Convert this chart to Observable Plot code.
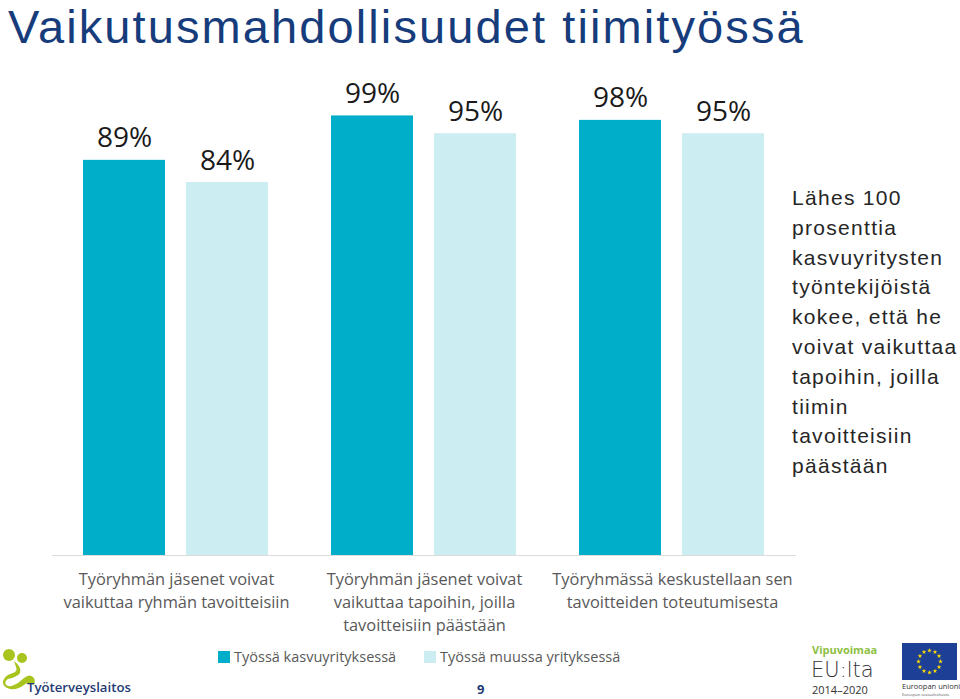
<!DOCTYPE html>
<html>
<head>
<meta charset="utf-8">
<script src="https://cdn.jsdelivr.net/npm/d3@7"></script>
<script src="https://cdn.jsdelivr.net/npm/@observablehq/plot@0.6"></script>
<style>
  html, body { margin: 0; padding: 0; background: #fff; }
  body { width: 960px; height: 699px; position: relative; overflow: hidden; }
  #title { position: absolute; left: 8px; top: 0px; font-family: "Liberation Sans", Arial, sans-serif; font-size: 47px; line-height: 53px; letter-spacing: 2.1px; color: #163c7c; white-space: nowrap; }
  #chart { position: absolute; left: 0; top: 0; }
  #note { position: absolute; left: 792px; top: 183px; font-family: "Liberation Sans", Arial, sans-serif; font-size: 21px; line-height: 29.8px; letter-spacing: 1.3px; color: #262626; white-space: nowrap; }
  #legend { position: absolute; left: 218px; top: 647px; font-family: "Open Sans", sans-serif; font-size: 14.5px; color: #595959; white-space: nowrap; }
  #legend span.item { position: absolute; top: 0; white-space: nowrap; }
  #legend i { display: inline-block; width: 12px; height: 12px; margin-right: 4px; vertical-align: -1px; }
  #page { position: absolute; left: 477px; top: 680px; font-family: "Open Sans", sans-serif; font-weight: bold; font-size: 13px; color: #1f3c73; }
  .logo { position: absolute; overflow: visible; }
</style>
</head>
<body>
<div id="title">Vaikutusmahdollisuudet tiimityössä</div>
<div id="chart"></div>
<div id="note"></div>
<div id="legend"></div>
<div id="page">9</div>

<svg class="logo" style="left:0;top:645px" width="140" height="54">
  <g fill="#a8c41e">
    <circle cx="9" cy="10" r="6"/>
    <circle cx="22" cy="13" r="5"/>
    <path d="M14 16 Q22 22 20 28 Q17 32 8 34 Q4 36 6 40 Q10 43 18 38 L24 33 Q30 28 34 33 Q36 37 33 40 Q28 36 24 40 Q18 45 10 44 Q2 42 3 36 Q5 30 13 28 Q18 26 16 22 Z"/>
  </g>
  <text x="27" y="47" font-family="Open Sans, sans-serif" font-weight="600" font-size="13.2" fill="#1f3c73">Työterveyslaitos</text>
</svg>

<svg class="logo" style="left:805px;top:640px" width="155" height="59">
  <text x="7" y="14" font-family="Open Sans, sans-serif" font-weight="bold" font-size="11" fill="#8dbf43">Vipuvoimaa</text>
  <text x="6" y="37" font-family="DejaVu Sans, sans-serif" font-weight="200" font-size="21" fill="#333">EU:lta</text>
  <text x="7" y="54" font-family="Open Sans, sans-serif" font-size="11" fill="#333">2014–2020</text>
  <rect x="97" y="3" width="55" height="37" fill="#1d3f95"/>
  <g id="stars" fill="#ffdd00"></g>
  <text x="97" y="49" font-family="Open Sans, sans-serif" font-size="7.5" fill="#333">Euroopan unioni</text>
  <text x="97" y="56" font-family="Open Sans, sans-serif" font-size="4" fill="#555">Euroopan sosiaalirahasto</text>
</svg>

<script>
// ---- data ----
const categories = [
  "Työryhmän jäsenet voivat\nvaikuttaa ryhmän tavoitteisiin",
  "Työryhmän jäsenet voivat\nvaikuttaa tapoihin, joilla\ntavoitteisiin päästään",
  "Työryhmässä keskustellaan sen\ntavoitteiden toteutumisesta"
];
const seriesNames = ["Työssä kasvuyrityksessä", "Työssä muussa yrityksessä"];
const growthValues = [89, 99, 98];
const otherValues = [84, 95, 95];
const seriesColors = ["#00aec9", "#ccedf2"];
const noteLines = ["Lähes 100", "prosenttia", "kasvuyritysten", "työntekijöistä", "kokee, että he", "voivat vaikuttaa", "tapoihin, joilla", "tiimin", "tavoitteisiin", "päästään"];

const data = [];
categories.forEach((c, i) => {
  data.push({category: c, series: seriesNames[0], value: growthValues[i]});
  data.push({category: c, series: seriesNames[1], value: otherValues[i]});
});

const chart = Plot.plot({
  width: 960,
  height: 699,
  marginLeft: 51,
  marginRight: 164,
  marginTop: 111,
  marginBottom: 144,
  style: {background: "transparent"},
  fx: {domain: categories, padding: 0, axis: null},
  x: {domain: seriesNames, paddingInner: 0.202, paddingOuter: 0.2957, axis: null},
  y: {domain: [0, 100], axis: null},
  color: {domain: seriesNames, range: seriesColors},
  marks: [
    Plot.barY(data, {fx: "category", x: "series", y: "value", fill: "series"}),
    Plot.ruleY([0], {stroke: "#dcdcdc", strokeWidth: 1.2}),
    Plot.text(data, {
      fx: "category", x: "series", y: "value",
      text: d => d.value + "%",
      dy: -22, lineAnchor: "middle",
      fontSize: 28, fontFamily: "Open Sans, sans-serif", fill: "#1a1a1a"
    }),
    Plot.text(categories, {
      fx: d => d, text: d => d,
      frameAnchor: "bottom", lineAnchor: "top", dy: 13,
      lineHeight: 1.4,
      fontSize: 16.4, fontFamily: "Open Sans, sans-serif", fill: "#595959"
    })
  ]
});
document.getElementById("chart").appendChild(chart);

// note text
document.getElementById("note").innerHTML = noteLines.join("<br>");

// legend
const legend = document.getElementById("legend");
const legendOffsets = [0, 206];
seriesNames.forEach((s, i) => {
  const span = document.createElement("span");
  span.className = "item";
  span.style.left = legendOffsets[i] + "px";
  span.innerHTML = `<i style="background:${seriesColors[i]}"></i>${s}`;
  legend.appendChild(span);
});

// EU stars (decorative logo)
const g = d3.select("#stars");
const star = d3.symbol(d3.symbolStar, 7)();
d3.range(12).forEach(k => {
  const a = k / 12 * 2 * Math.PI;
  g.append("path").attr("d", star)
    .attr("transform", `translate(${124.5 + 11 * Math.cos(a)},${21.5 + 11 * Math.sin(a)})`);
});
</script>
</body>
</html>
